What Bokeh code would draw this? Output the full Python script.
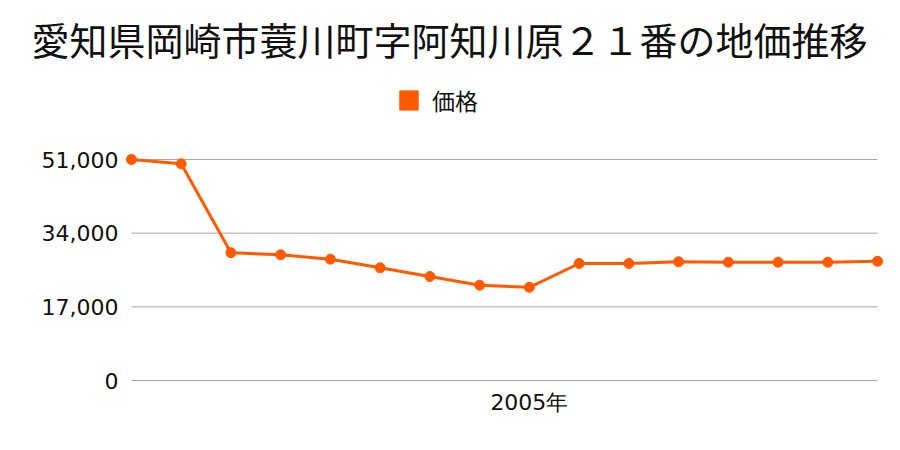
from bokeh.plotting import figure
from bokeh.models import Range1d, FixedTicker, Legend, LegendItem, NumeralTickFormatter
from bokeh.embed import file_html
from bokeh.resources import INLINE

title_text = "愛知県岡崎市蓑川町字阿知川原２１番の地価推移"
series_name = "価格"
years = list(range(1997, 2013))
prices = [51000, 50000, 29500, 29000, 28000, 26000, 24000, 22000, 21500,
          27000, 27000, 27400, 27300, 27300, 27300, 27500]
y_ticks = [0, 17000, 34000, 51000]
x_tick_year = 2005
x_tick_label = "2005年"

COLOR = "#ff5a00"
FONT = "Noto Sans CJK JP"
NUMFONT = "DejaVu Sans"

xs = list(range(len(years)))
tick_idx = years.index(x_tick_year)

# pixel geometry of the plotting area
FRAME_LEFT = 121
FRAME_TOP = 70
FRAME_BOTTOM = 381
ZERO_PX = 380
TOP_TICK_PX = 159
px_per_unit = (ZERO_PX - TOP_TICK_PX) / max(y_ticks)
y_start = -(FRAME_BOTTOM - ZERO_PX) / px_per_unit
y_end = (ZERO_PX - FRAME_TOP) / px_per_unit

p = figure(width=900, height=450, output_backend="svg", toolbar_location=None,
           x_range=Range1d(-0.2, len(years) - 1 + 0.2),
           y_range=Range1d(y_start, y_end),
           min_border_left=FRAME_LEFT, min_border_right=13, min_border_top=FRAME_TOP,
           min_border_bottom=450 - FRAME_BOTTOM)
p.outline_line_color = None

p.xgrid.visible = False
p.ygrid.visible = False
p.segment(x0=[0] * len(y_ticks), x1=[len(years) - 1] * len(y_ticks), y0=y_ticks, y1=y_ticks,
          line_color="#aaaaaa", line_width=1)

line = p.line(xs, prices, line_color=COLOR, line_width=3)
pts = p.scatter(xs, prices, size=10, color=COLOR)
swatch = p.quad(left=[float("nan")], right=[float("nan")], bottom=[float("nan")], top=[float("nan")],
                fill_color=COLOR, line_color=COLOR)

p.title.text = title_text
p.title.text_font = FONT
p.title.text_font_size = "38px"
p.title.text_font_style = "normal"
p.title.text_color = "#111111"
p.title.align = "left"
p.title.offset = 31 - FRAME_LEFT

legend = Legend(items=[LegendItem(label=series_name, renderers=[swatch])],
                orientation="horizontal", location=(397 - FRAME_LEFT, FRAME_BOTTOM - 117),
                label_text_font=FONT, label_text_font_size="23px", label_text_color="#111111",
                glyph_width=23, glyph_height=24, border_line_color=None,
                background_fill_alpha=0, label_standoff=12, margin=0, padding=0)
p.add_layout(legend, "center")

p.yaxis.ticker = FixedTicker(ticks=y_ticks)
p.yaxis.formatter = NumeralTickFormatter(format="0,0")
p.yaxis.axis_line_color = None
p.yaxis.major_tick_line_color = None
p.yaxis.minor_tick_line_color = None
p.yaxis.major_label_text_font = NUMFONT
p.yaxis.major_label_text_font_size = "22px"
p.yaxis.major_label_text_color = "#111111"
p.yaxis.major_label_standoff = -3

p.xaxis.ticker = FixedTicker(ticks=[tick_idx])
p.xaxis.major_label_overrides = {tick_idx: x_tick_label}
p.xaxis.axis_line_color = None
p.xaxis.major_tick_line_color = None
p.xaxis.minor_tick_line_color = None
p.xaxis.major_label_text_font = NUMFONT
p.xaxis.major_label_text_font_size = "22px"
p.xaxis.major_label_text_color = "#111111"
p.xaxis.major_label_standoff = 2

open("out.html", "w").write(file_html(p, INLINE))
